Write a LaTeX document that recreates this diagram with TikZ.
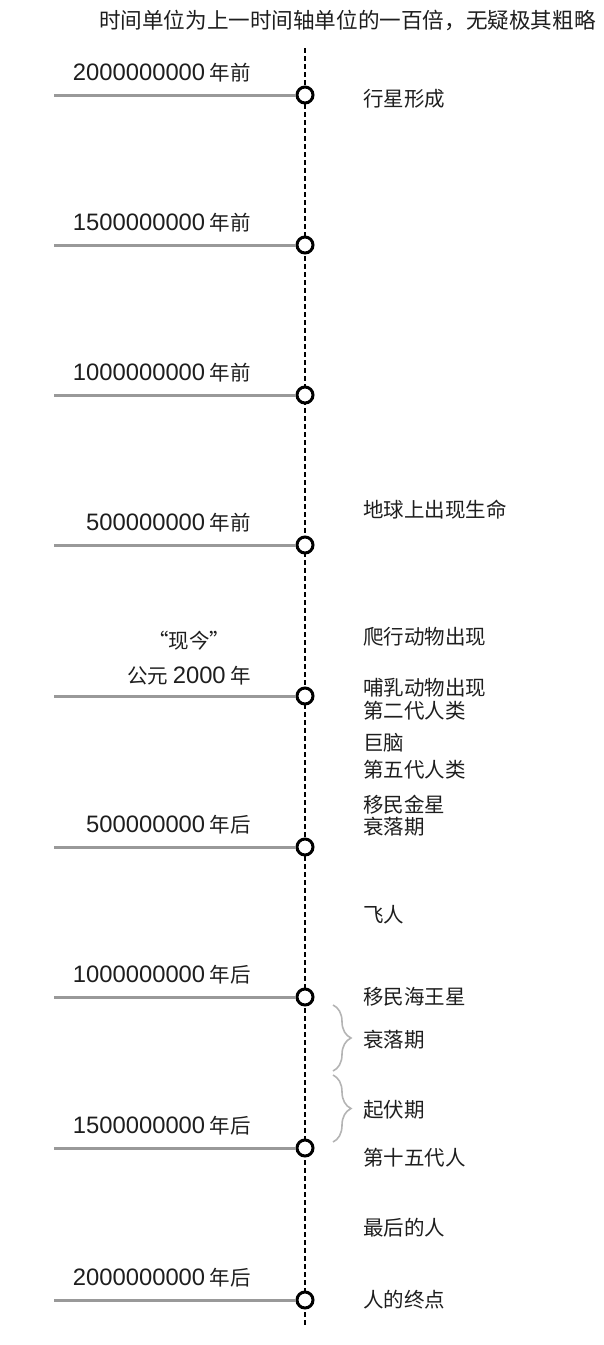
\documentclass[tikz,border=0pt]{standalone}
\usepackage{fontspec}
\setmainfont{Noto Sans CJK SC}
\newfontfamily\numfont{Liberation Sans}[Scale=1.16]
\usetikzlibrary{positioning,decorations.pathreplacing}

\definecolor{bargray}{HTML}{999999}
\definecolor{bracegray}{HTML}{B4B4B4}
\definecolor{ink}{HTML}{1E1E1E}

\newcommand{\yr}[1]{{\numfont #1}}
\newcommand{\openq}{\makebox[20.5pt][r]{“}}
\newcommand{\closeq}{\makebox[20.5pt][l]{”}}

\begin{document}
\begin{tikzpicture}[x=1pt,y=-1pt,
  dot/.style={circle,draw=black,line width=3pt,fill=white,minimum size=16pt,inner sep=0pt},
  bar/.style={draw=bargray,line width=3pt},
  when/.style={anchor=base east,text=ink,inner sep=0pt,font=\fontsize{20.5}{24}\selectfont},
  what/.style={anchor=west,text=ink,inner sep=0pt,font=\fontsize{20.5}{24}\selectfont},
  curly/.style={decorate,decoration={brace,amplitude=18pt},draw=bracegray,line width=1.6pt}]
\useasboundingbox (0,0) rectangle (604,1345);

\node[anchor=east,text=ink,inner sep=0pt,font=\fontsize{21.6}{24}\selectfont] (title) at (596,20) {时间单位为上一时间轴单位的一百倍，无疑极其粗略};

% axis
\coordinate (top) at (305,48);
\coordinate (bot) at (305,1325);
\draw[line width=1.3pt,dash pattern=on 5pt off 3pt] (top) -- (bot);

% ticks
\foreach \i/\y in {1/95,2/245,3/395,4/545,5/696,6/847,7/997,8/1148,9/1300}{
  \coordinate (s\i) at (54,\y);
  \node[dot] (c\i) at (305,\y) {};
  \draw[bar] (s\i) -- (c\i.west);
}

\foreach \i/\t/\s in {1/2000000000/前,2/1500000000/前,3/1000000000/前,4/500000000/前,
  6/500000000/后,7/1000000000/后,8/1500000000/后,9/2000000000/后}
  \node[when] (w\i) at ([yshift=15pt]c\i.center -| 251,0) {\yr{\t} 年\s};

\node[when] (w5) at ([yshift=13pt]c5.center -| 251,0) {公元 \yr{2000} 年};
\node[when,anchor=base] (now) at ([yshift=35pt]w5.base) {\openq 现今\closeq};

% events
\foreach \n/\y/\t in {a/99/行星形成,b/510/地球上出现生命,c/637/爬行动物出现,
  d/688/哺乳动物出现,e/711/第二代人类,f/743/巨脑,g/770/第五代人类,
  h/805/移民金星,k/827/衰落期,l/915/飞人,m/997/移民海王星,
  n/1040/衰落期,o/1110/起伏期,p/1158/第十五代人,q/1228/最后的人,r/1300/人的终点}
  \node[what] (e\n) at (363,\y) {\t};

% braces
\coordinate (b1) at (333,1005);
\coordinate (b2) at (333,1071);
\coordinate (b3) at (333,1075);
\coordinate (b4) at (333,1142);
\draw[curly] (b1) -- (b2);
\draw[curly] (b3) -- (b4);
\end{tikzpicture}
\end{document}
